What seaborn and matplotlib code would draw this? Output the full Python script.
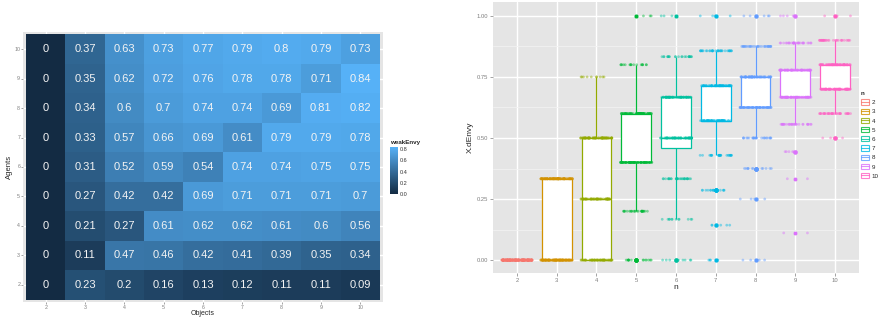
import numpy as np
import pandas as pd
import matplotlib
matplotlib.use("Agg")
import matplotlib.pyplot as plt
from matplotlib.colors import LinearSegmentedColormap
from matplotlib.patches import Patch
from matplotlib.lines import Line2D
import seaborn as sns

# ---------------- data: heatmap (weakEnvy) ----------------
objects = [2, 3, 4, 5, 6, 7, 8, 9, 10]
agents = [10, 9, 8, 7, 6, 5, 4, 3, 2]
row_a10 = [0, 0.37, 0.63, 0.73, 0.77, 0.79, 0.8, 0.79, 0.73]
row_a9 = [0, 0.35, 0.62, 0.72, 0.76, 0.78, 0.78, 0.71, 0.84]
row_a8 = [0, 0.34, 0.6, 0.7, 0.74, 0.74, 0.69, 0.81, 0.82]
row_a7 = [0, 0.33, 0.57, 0.66, 0.69, 0.61, 0.79, 0.79, 0.78]
row_a6 = [0, 0.31, 0.52, 0.59, 0.54, 0.74, 0.74, 0.75, 0.75]
row_a5 = [0, 0.27, 0.42, 0.42, 0.69, 0.71, 0.71, 0.71, 0.7]
row_a4 = [0, 0.21, 0.27, 0.61, 0.62, 0.62, 0.61, 0.6, 0.56]
row_a3 = [0, 0.11, 0.47, 0.46, 0.42, 0.41, 0.39, 0.35, 0.34]
row_a2 = [0, 0.23, 0.2, 0.16, 0.13, 0.12, 0.11, 0.11, 0.09]

# ---------------- data: X.dEnvy distributions per n (value, count) ----------------
n_levels = ["2", "3", "4", "5", "6", "7", "8", "9", "10"]
vals_n2 = [0.0];                                   cnt_n2 = [200]
vals_n3 = [0.0, 0.333];                            cnt_n3 = [105, 95]
vals_n4 = [0.0, 0.25, 0.5, 0.75];                  cnt_n4 = [55, 60, 75, 10]
vals_n5 = [0.0, 0.2, 0.4, 0.6, 0.8, 1.0];          cnt_n5 = [15, 25, 70, 70, 17, 3]
vals_n6 = [0.0, 0.167, 0.333, 0.5, 0.667, 0.833, 1.0]
cnt_n6 = [8, 12, 30, 60, 65, 22, 3]
vals_n7 = [0.0, 0.143, 0.286, 0.429, 0.571, 0.714, 0.857, 1.0]
cnt_n7 = [4, 5, 15, 24, 55, 60, 33, 4]
vals_n8 = [0.0, 0.25, 0.375, 0.5, 0.625, 0.75, 0.875, 1.0]
cnt_n8 = [4, 4, 14, 25, 55, 60, 33, 5]
vals_n9 = [0.111, 0.333, 0.444, 0.556, 0.667, 0.778, 0.889, 1.0]
cnt_n9 = [2, 2, 6, 30, 65, 60, 30, 5]
vals_n10 = [0.5, 0.6, 0.7, 0.8, 0.9, 1.0];         cnt_n10 = [6, 35, 65, 60, 30, 4]

palette_n = ["#F8766D", "#D39200", "#93AA00", "#00BA38", "#00C19F",
             "#00B9E3", "#619CFF", "#DB72FB", "#FF61C3"]

# ---------------- build tables ----------------
heat = pd.DataFrame([row_a10, row_a9, row_a8, row_a7, row_a6, row_a5, row_a4, row_a3, row_a2],
                    index=agents, columns=objects)

all_vals = [vals_n2, vals_n3, vals_n4, vals_n5, vals_n6, vals_n7, vals_n8, vals_n9, vals_n10]
all_cnts = [cnt_n2, cnt_n3, cnt_n4, cnt_n5, cnt_n6, cnt_n7, cnt_n8, cnt_n9, cnt_n10]
frames = []
for lev, v, c in zip(n_levels, all_vals, all_cnts):
    frames.append(pd.DataFrame({"n": lev, "X.dEnvy": np.repeat(v, c)}))
env = pd.concat(frames, ignore_index=True)
env["n"] = pd.Categorical(env["n"], categories=n_levels, ordered=True)

# ---------------- style ----------------
sns.set_style("white")
plt.rcParams["font.family"] = ["Liberation Sans", "DejaVu Sans"]
BG = "#E5E5E5"
TICKC = "#7F7F7F"

fig = plt.figure(figsize=(8.83, 3.18), dpi=100)
W, H = 883.0, 318.0
AX1_BOTTOM = 302.0
AX1_H = 270.0
ax1 = fig.add_axes([23 / W, 1 - AX1_BOTTOM / H, 360 / W, AX1_H / H])
cax = fig.add_axes([390 / W, 1 - 194 / H, 8 / W, 47 / H])
ax2 = fig.add_axes([493 / W, 1 - 273 / H, 366 / W, 271 / H])

# ---------------- left: heatmap ----------------
cmap = LinearSegmentedColormap.from_list("gg", ["#132B43", "#56B1F7"])
sns.heatmap(heat, ax=ax1, cmap=cmap, vmin=0, vmax=0.84, annot=True, fmt="g",
            annot_kws={"color": "#F4F4F4", "fontsize": 8},
            cbar_ax=cax, cbar_kws={"ticks": [0, 0.2, 0.4, 0.6, 0.8]})
ax1.set_facecolor(BG)
ax1.set_axisbelow(True)
ax1.grid(True, color="white", lw=1.0)
ax1.set_xlim(-0.08, 9.08)
ax1.set_ylim(9.08, -0.08)
for s in ax1.spines.values():
    s.set_visible(False)
ax1.tick_params(axis="both", length=1.2, width=0.5, color=TICKC, labelsize=3.8,
                labelcolor=TICKC, pad=0.8, bottom=True, left=True)
ax1.set_yticklabels([str(a) for a in agents], rotation=0)
ax1.set_xticklabels([str(o) for o in objects], rotation=0)
ax1.set_xlabel("Objects", fontsize=5.0)
ax1.xaxis.label.set_va("bottom")
ax1.xaxis.set_label_coords(0.5, -(317.3 - AX1_BOTTOM) / AX1_H)
ax1.set_ylabel("Agents", fontsize=5.5, labelpad=1.0)

cbar = ax1.collections[0].colorbar
cbar.outline.set_visible(False)
cbar.set_ticklabels(["0.0", "0.2", "0.4", "0.6", "0.8"])
cax.tick_params(length=2, width=0.5, color="white", direction="in",
                labelsize=4.0, labelcolor="#333333", pad=1.5)
cax.set_title("weakEnvy", fontsize=4.5, fontweight="bold", loc="left", pad=2)

# ---------------- right: boxplot + jitter ----------------
ax2.set_facecolor(BG)
sns.boxplot(data=env, x="n", y="X.dEnvy", hue="n", order=n_levels, hue_order=n_levels,
            palette=palette_n, width=0.75, fill=True, linecolor="black", linewidth=0.9,
            showcaps=False, whis=1.5, legend=False, ax=ax2, fliersize=2.0,
            flierprops={"marker": "s"})
for p in ax2.patches:
    verts = p.get_path().vertices
    i = int(round(np.mean(verts[:, 0])))
    p.set_facecolor("white")
    p.set_edgecolor(palette_n[i])
    p.set_zorder(2)
for ln in ax2.lines:
    xs = np.asarray(ln.get_xdata(), dtype=float)
    if len(xs) == 0:
        continue
    i = int(round(np.mean(xs)))
    ln.set_color(palette_n[i])
    ln.set_markerfacecolor(palette_n[i])
    ln.set_markeredgecolor(palette_n[i])

np.random.seed(3)
sns.stripplot(data=env, x="n", y="X.dEnvy", hue="n", order=n_levels, hue_order=n_levels,
              palette=palette_n, jitter=0.4, size=2.0, alpha=0.45, linewidth=0,
              legend=False, ax=ax2, zorder=3)

ax2.set_xlim(-0.6, 8.6)
ax2.set_ylim(-0.053, 1.057)
ax2.set_yticks([0, 0.25, 0.5, 0.75, 1.0])
ax2.set_yticklabels(["0.00", "0.25", "0.50", "0.75", "1.00"])
ax2.set_yticks([0.125, 0.375, 0.625, 0.875], minor=True)
ax2.set_axisbelow(True)
ax2.grid(True, which="major", color="white", lw=1.0)
ax2.grid(True, which="minor", axis="y", color="#F2F2F2", lw=0.6)
for s in ax2.spines.values():
    s.set_visible(False)
ax2.tick_params(axis="both", which="major", length=2, width=0.5, color=TICKC,
                labelsize=4.2, labelcolor=TICKC, pad=1.5, bottom=True, left=True)
ax2.tick_params(axis="y", which="minor", length=0)
ax2.set_xlabel("n", fontsize=6, labelpad=1)
ax2.set_ylabel("X.dEnvy", fontsize=6, labelpad=2)

handles = [(Patch(facecolor="white", edgecolor=c, lw=0.8, alpha=0.8),
            Line2D([], [], color=c, lw=0.8, alpha=0.8)) for c in palette_n]
leg = ax2.legend(handles, n_levels, title="n", loc="upper left",
                 bbox_to_anchor=(861 / W, 1 - 91 / H), bbox_transform=fig.transFigure,
                 frameon=False, fontsize=4.5, title_fontsize=4.5, handlelength=1.3,
                 handleheight=0.9, labelspacing=0.55, handletextpad=0.4,
                 borderaxespad=0, borderpad=0)
leg.get_title().set_fontweight("bold")
leg._legend_box.align = "left"

fig.savefig("out.png", dpi=100, facecolor="white")
